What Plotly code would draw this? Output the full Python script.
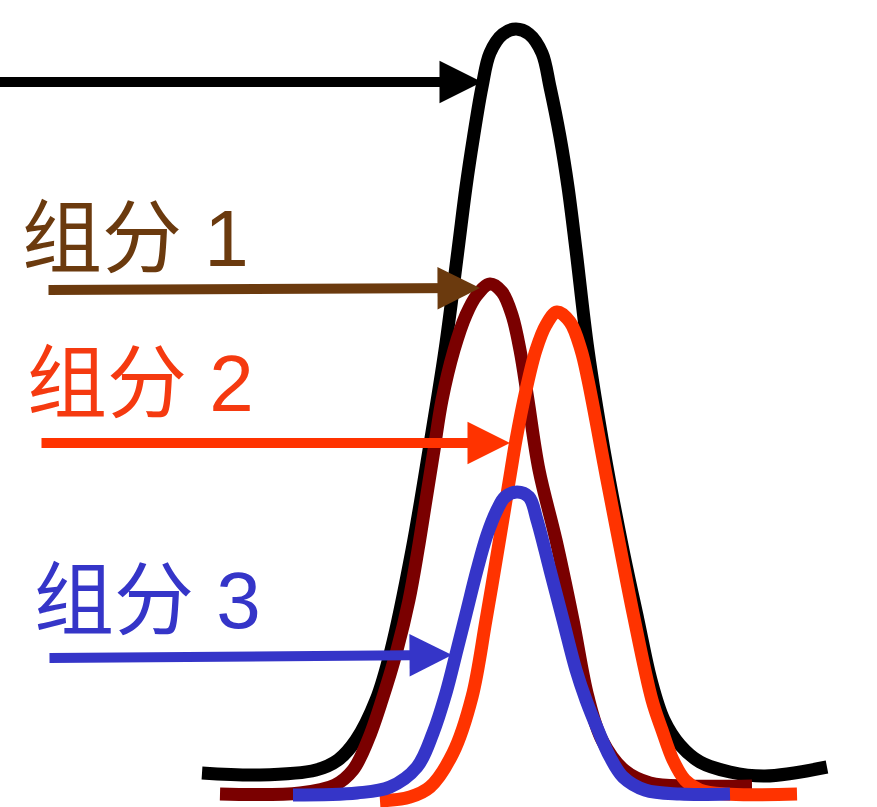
import plotly.graph_objects as go

# ---- data (pixel-like units; y grows downward) ----
total_x = [202, 260, 316, 338, 356, 376, 391, 412, 429, 445, 458, 466, 473.5, 482, 490, 503, 516,
           529, 542, 550, 560, 568, 576, 588, 604, 623, 638, 651, 664, 680, 700, 730, 765, 827]
total_y = [773, 775, 770, 760, 740, 700, 650, 550, 450, 350, 250, 187, 137, 87, 53, 34, 29,
           34, 53, 87, 137, 187, 250, 350, 450, 550, 620, 680, 720, 745, 762, 772, 776, 767]

comp1_x = [220, 300, 335, 353, 368, 382, 397, 409, 418, 426, 434, 442, 454, 466, 477, 490,
           502, 512, 520, 528, 539, 556, 573, 588, 602, 624, 650, 690, 752]
comp1_y = [794, 793, 785, 770, 740, 700, 650, 600, 550, 500, 450, 400, 350, 315, 295, 284,
           292, 315, 350, 400, 470, 540, 620, 697, 740, 770, 783, 786, 786]

comp2_x = [380, 410, 430, 453, 472, 486, 500, 511, 516, 526, 536, 546, 557,
           570, 581, 588, 607, 620, 633, 652, 662, 673, 685, 700, 725, 797]
comp2_y = [801, 797, 787, 753, 697, 620, 537, 470, 440, 390, 350, 325, 312,
           322, 350, 380, 480, 547, 613, 700, 730, 760, 780, 790, 794, 794]

comp3_x = [293, 357, 390, 417, 433, 446, 457, 467, 477, 487, 497, 505, 517,
           529, 537, 550, 563, 576, 586, 598, 610, 623, 645, 680, 730]
comp3_y = [795, 793, 787, 767, 733, 693, 650, 610, 570, 535, 510, 497, 492,
           497, 520, 570, 620, 670, 700, 730, 757, 777, 790, 794, 794]

labels = ["组分 1", "组分 2", "组分 3"]
label_x = [135, 140, 147]
label_y = [238, 383, 600]

# arrows: tail (x0,y0) -> head (x1,y1)
arrow_x0 = [-5, 47, 40, 48]
arrow_y0 = [82, 290, 443, 658]
arrow_x1 = [482, 480, 510, 452]
arrow_y1 = [82, 288, 443, 655]

# ---- styles ----
curve_colors = ["#000000", "#7a0000", "#ff3300", "#3535c8"]
arrow_colors = ["#000000", "#6b3a0e", "#ff3300", "#3535c8"]
label_colors = ["#6b3a0e", "#f53a10", "#3535c8"]

fig = go.Figure()
for xs, ys, c in zip([total_x, comp1_x, comp2_x, comp3_x],
                     [total_y, comp1_y, comp2_y, comp3_y], curve_colors):
    fig.add_trace(go.Scatter(x=xs, y=ys, mode="lines",
                             line=dict(color=c, width=13, shape="spline", smoothing=1.0),
                             hoverinfo="skip", showlegend=False))

annotations = []
for x0, y0, x1, y1, c in zip(arrow_x0, arrow_y0, arrow_x1, arrow_y1, arrow_colors):
    annotations.append(dict(x=x1, y=y1, ax=x0, ay=y0, xref="x", yref="y", axref="x", ayref="y",
                            text="", showarrow=True, arrowhead=2, arrowsize=0.85,
                            arrowwidth=10, arrowcolor=c, standoff=0))
for t, x, y, c in zip(labels, label_x, label_y, label_colors):
    annotations.append(dict(x=x, y=y, xref="x", yref="y", text=t, showarrow=False,
                            xanchor="center", yanchor="middle",
                            font=dict(family="Liberation Sans, Noto Sans CJK SC", size=80, color=c)))

fig.update_layout(
    width=877, height=807,
    margin=dict(l=0, r=0, t=0, b=0),
    paper_bgcolor="white", plot_bgcolor="white",
    xaxis=dict(range=[0, 877], visible=False, fixedrange=True),
    yaxis=dict(range=[807, 0], visible=False, fixedrange=True),
    annotations=annotations,
)
fig.write_html("out.html", config={"displayModeBar": False},
               post_script="document.body.style.margin='0';document.body.style.overflow='hidden';")
